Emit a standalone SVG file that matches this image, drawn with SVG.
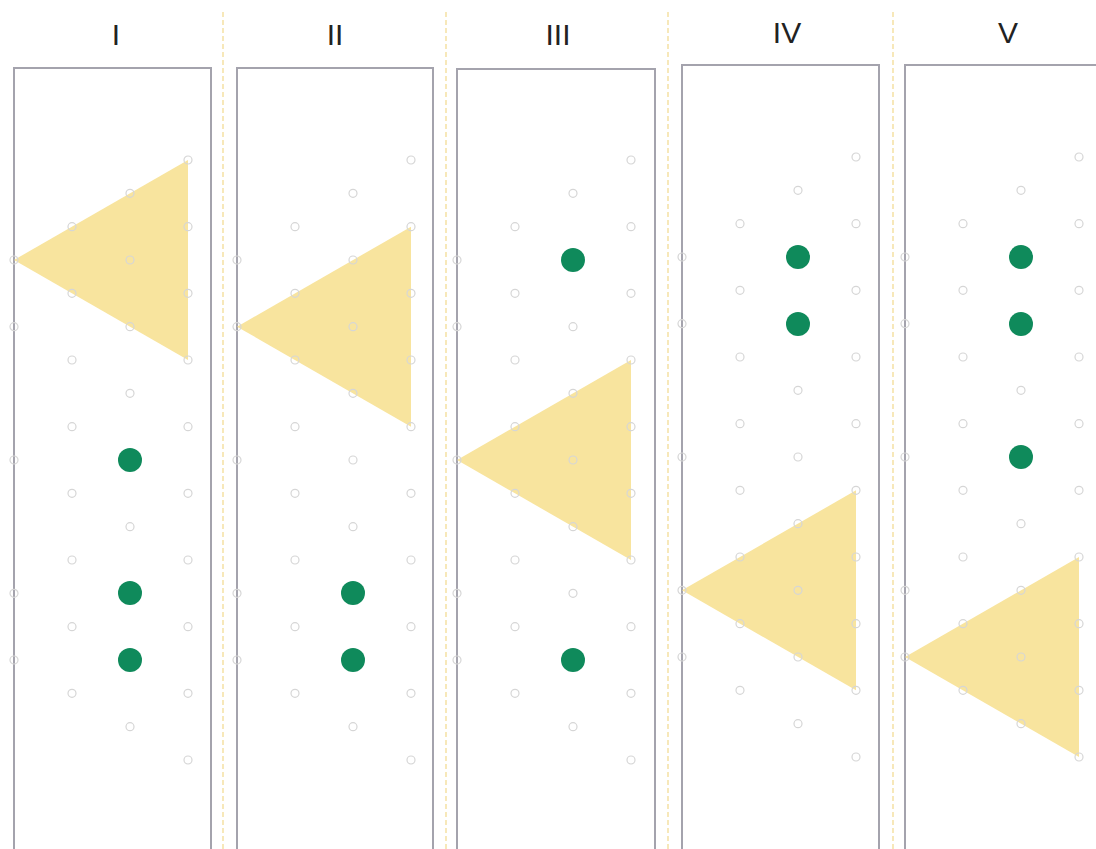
<svg xmlns="http://www.w3.org/2000/svg" width="1096" height="849" viewBox="0 0 1096 849">
<style>
.box{fill:#fff;stroke:#a4a3ad;stroke-width:2}
.div{stroke:#f2d98c;stroke-width:1.2;stroke-dasharray:5 3;fill:none}
.lbl{font-family:"Liberation Sans",Arial,sans-serif;font-size:30px;fill:#222;text-anchor:middle}
.tri{fill:#f8e49e}
.dot{fill:none;stroke:#d6d6d6;stroke-width:1.2}
.g{fill:#0f8a5b}
</style>
<defs>
<g id="lat">
<circle class="dot" cx="0" cy="100" r="4"/><circle class="dot" cx="0" cy="166.7" r="4"/><circle class="dot" cx="0" cy="300" r="4"/><circle class="dot" cx="0" cy="433.3" r="4"/><circle class="dot" cx="0" cy="500" r="4"/>
<circle class="dot" cx="58" cy="66.7" r="4"/><circle class="dot" cx="58" cy="133.3" r="4"/><circle class="dot" cx="58" cy="200" r="4"/><circle class="dot" cx="58" cy="266.7" r="4"/><circle class="dot" cx="58" cy="333.3" r="4"/><circle class="dot" cx="58" cy="400" r="4"/><circle class="dot" cx="58" cy="466.7" r="4"/><circle class="dot" cx="58" cy="533.3" r="4"/>
<circle class="dot" cx="116" cy="33.3" r="4"/><circle class="dot" cx="116" cy="100" r="4"/><circle class="dot" cx="116" cy="166.7" r="4"/><circle class="dot" cx="116" cy="233.3" r="4"/><circle class="dot" cx="116" cy="300" r="4"/><circle class="dot" cx="116" cy="366.7" r="4"/><circle class="dot" cx="116" cy="433.3" r="4"/><circle class="dot" cx="116" cy="500" r="4"/><circle class="dot" cx="116" cy="566.7" r="4"/>
<circle class="dot" cx="174" cy="0" r="4"/><circle class="dot" cx="174" cy="66.7" r="4"/><circle class="dot" cx="174" cy="133.3" r="4"/><circle class="dot" cx="174" cy="200" r="4"/><circle class="dot" cx="174" cy="266.7" r="4"/><circle class="dot" cx="174" cy="333.3" r="4"/><circle class="dot" cx="174" cy="400" r="4"/><circle class="dot" cx="174" cy="466.7" r="4"/><circle class="dot" cx="174" cy="533.3" r="4"/><circle class="dot" cx="174" cy="600" r="4"/>
</g>
</defs>
<g id="dividers">
<line class="div" x1="223" y1="12" x2="223" y2="849"/>
<line class="div" x1="446" y1="12" x2="446" y2="849"/>
<line class="div" x1="668" y1="12" x2="668" y2="849"/>
<line class="div" x1="893" y1="12" x2="893" y2="849"/>
</g>
<g id="panel-I">
<text class="lbl" x="116" y="45">I</text>
<rect class="box" x="14" y="68" width="197" height="800"/>
<polygon class="tri" points="14,260 188,160 188,360"/>
<use href="#lat" x="14" y="160"/>
<circle class="g" cx="130" cy="460" r="12"/><circle class="g" cx="130" cy="593" r="12"/><circle class="g" cx="130" cy="660" r="12"/>
</g>
<g id="panel-II">
<text class="lbl" x="335" y="45">II</text>
<rect class="box" x="237" y="68" width="196" height="800"/>
<polygon class="tri" points="237,326.7 411,226.7 411,426.7"/>
<use href="#lat" x="237" y="160"/>
<circle class="g" cx="353" cy="593" r="12"/><circle class="g" cx="353" cy="660" r="12"/>
</g>
<g id="panel-III">
<text class="lbl" x="558" y="45">III</text>
<rect class="box" x="457" y="69" width="198" height="800"/>
<polygon class="tri" points="457,460 631,360 631,560"/>
<use href="#lat" x="457" y="160"/>
<circle class="g" cx="573" cy="260" r="12"/><circle class="g" cx="573" cy="660" r="12"/>
</g>
<g id="panel-IV">
<text class="lbl" x="787" y="43">IV</text>
<rect class="box" x="682" y="65" width="197" height="800"/>
<polygon class="tri" points="682,590.3 856,490.3 856,690.3"/>
<use href="#lat" x="682" y="157"/>
<circle class="g" cx="798" cy="257" r="12"/><circle class="g" cx="798" cy="324" r="12"/>
</g>
<g id="panel-V">
<text class="lbl" x="1008" y="43">V</text>
<rect class="box" x="905" y="65" width="197" height="800"/>
<polygon class="tri" points="905,657 1079,557 1079,757"/>
<use href="#lat" x="905" y="157"/>
<circle class="g" cx="1021" cy="257" r="12"/><circle class="g" cx="1021" cy="324" r="12"/><circle class="g" cx="1021" cy="457" r="12"/>
</g>
</svg>
